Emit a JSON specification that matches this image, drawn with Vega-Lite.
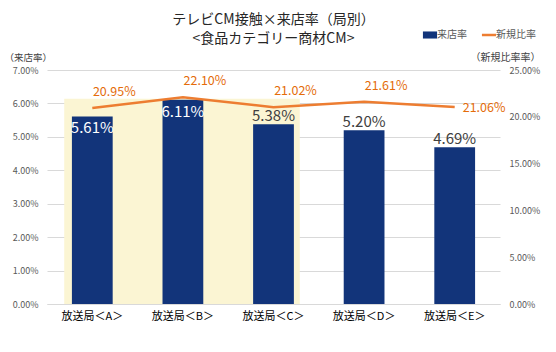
{
  "$schema": "https://vega.github.io/schema/vega-lite/v6.json",
  "width": 453,
  "height": 234,
  "autosize": {"type": "none"},
  "padding": {"left": 47, "top": 70, "right": 56, "bottom": 48},
  "background": "white",
  "config": {"view": {"stroke": null}, "font": "Noto Sans CJK JP"},
  "title": {
    "text": ["テレビCM接触×来店率（局別）", "<食品カテゴリー商材CM>"],
    "fontSize": 14,
    "fontWeight": "normal",
    "color": "#262626",
    "lineHeight": 19,
    "anchor": "middle",
    "offset": -16
  },
  "datasets": {
    "main": [
      {"station": "放送局＜A＞", "rate": 0.0561, "newRatio": 0.2095},
      {"station": "放送局＜B＞", "rate": 0.0611, "newRatio": 0.2210},
      {"station": "放送局＜C＞", "rate": 0.0538, "newRatio": 0.2102},
      {"station": "放送局＜D＞", "rate": 0.0520, "newRatio": 0.2161},
      {"station": "放送局＜E＞", "rate": 0.0469, "newRatio": 0.2106}
    ],
    "highlight": [
      {"from": "放送局＜A＞", "to": "放送局＜C＞", "top": 0.0614}
    ]
  },
  "layer": [
    {
      "encoding": {
        "y": {"type": "quantitative",
          "scale": {"domain": [0, 0.07], "nice": false},
          "axis": {"title": "（来店率）", "format": ".2%", "values": [0, 0.01, 0.02, 0.03, 0.04, 0.05, 0.06, 0.07],
            "labelFontSize": 9, "labelColor": "#595959", "domain": false, "ticks": false, "labelPadding": 9,
            "gridColor": "#d9d9d9", "titleAngle": 0, "titleAlign": "left", "titleBaseline": "middle",
            "titleX": -43, "titleY": -13, "titleFontSize": 9.5, "titleFontWeight": "normal", "titleColor": "#404040"}}
      },
      "layer": [
        {
          "data": {"name": "highlight"},
          "mark": {"type": "rect", "color": "#FBF5D3"},
          "encoding": {
            "x": {"field": "from", "type": "nominal", "bandPosition": 0.19,
              "scale": {"domain": ["放送局＜A＞", "放送局＜B＞", "放送局＜C＞", "放送局＜D＞", "放送局＜E＞"], "paddingInner": 0, "paddingOuter": 0},
              "axis": {"title": null, "ticks": false, "domainColor": "#d9d9d9", "labelFontSize": 11, "labelColor": "#000000", "labelPadding": 6, "labelAngle": 0}},
            "x2": {"field": "to", "bandPosition": 0.79},
            "y": {"field": "top", "type": "quantitative"},
            "y2": {"datum": 0}
          }
        },
        {
          "data": {"name": "main"},
          "mark": {"type": "bar", "width": {"band": 0.45}},
          "encoding": {
            "x": {"field": "station", "type": "nominal"},
            "y": {"field": "rate", "type": "quantitative"},
            "color": {"datum": "来店率", "type": "nominal",
              "scale": {"domain": ["来店率", "新規比率"], "range": ["#12347A", "#ED7D31"]},
              "legend": {"title": null, "orient": "none", "legendX": 378, "legendY": -40, "direction": "horizontal",
                "labelFontSize": 10, "labelColor": "#595959", "columnPadding": 9, "symbolSize": 200, "labelOffset": 2,
                "encode": {"symbols": {"update": {
                  "shape": {"signal": "datum.value == '新規比率' ? 'M-1,0H1' : 'M-1,-0.5H1V0.5H-1Z'"},
                  "strokeWidth": {"signal": "datum.value == '新規比率' ? 2.5 : 0"},
                  "stroke": {"signal": "datum.value == '新規比率' ? '#ED7D31' : '#12347A'"},
                  "fill": {"signal": "datum.value == '新規比率' ? 'transparent' : '#12347A'"}
                }}}}}
          }
        },
        {
          "data": {"name": "main"},
          "transform": [{"filter": "datum.rate > 0.055"}],
          "mark": {"type": "text", "baseline": "top", "dy": 5, "fontSize": 15, "color": "#ffffff"},
          "encoding": {
            "x": {"field": "station", "type": "nominal"},
            "y": {"field": "rate", "type": "quantitative"},
            "text": {"field": "rate", "type": "quantitative", "format": ".2%"}
          }
        },
        {
          "data": {"name": "main"},
          "transform": [{"filter": "datum.rate <= 0.055"}],
          "mark": {"type": "text", "baseline": "bottom", "dy": 0, "fontSize": 15, "color": "#404040"},
          "encoding": {
            "x": {"field": "station", "type": "nominal"},
            "y": {"field": "rate", "type": "quantitative"},
            "text": {"field": "rate", "type": "quantitative", "format": ".2%"}
          }
        }
      ]
    },
    {
      "data": {"name": "main"},
      "encoding": {
        "y": {"type": "quantitative",
          "scale": {"domain": [0, 0.25], "nice": false},
          "axis": {"orient": "right", "title": "（新規比率率）", "format": ".2%", "values": [0, 0.05, 0.1, 0.15, 0.2, 0.25],
            "labelFontSize": 9, "labelColor": "#595959", "domain": false, "ticks": false, "grid": false, "labelPadding": 9,
            "titleAngle": 0, "titleAlign": "center", "titleBaseline": "middle",
            "titleX": 5, "titleY": -13, "titleFontSize": 10, "titleFontWeight": "normal", "titleColor": "#404040"}}
      },
      "layer": [
        {
          "mark": {"type": "line", "strokeWidth": 2.5},
          "encoding": {
            "x": {"field": "station", "type": "nominal"},
            "y": {"field": "newRatio", "type": "quantitative"},
            "color": {"datum": "新規比率", "type": "nominal"}
          }
        },
        {
          "transform": [{"filter": "datum.station != '放送局＜E＞'"}],
          "mark": {"type": "text", "dx": 22, "dy": -16, "fontSize": 12.5, "color": "#E46C0A"},
          "encoding": {
            "x": {"field": "station", "type": "nominal"},
            "y": {"field": "newRatio", "type": "quantitative"},
            "text": {"field": "newRatio", "type": "quantitative", "format": ".2%"}
          }
        },
        {
          "transform": [{"filter": "datum.station == '放送局＜E＞'"}],
          "mark": {"type": "text", "align": "left", "dx": 8, "dy": 1, "fontSize": 12.5, "color": "#E46C0A"},
          "encoding": {
            "x": {"field": "station", "type": "nominal"},
            "y": {"field": "newRatio", "type": "quantitative"},
            "text": {"field": "newRatio", "type": "quantitative", "format": ".2%"}
          }
        }
      ]
    }
  ],
  "resolve": {"scale": {"y": "independent"}}
}
